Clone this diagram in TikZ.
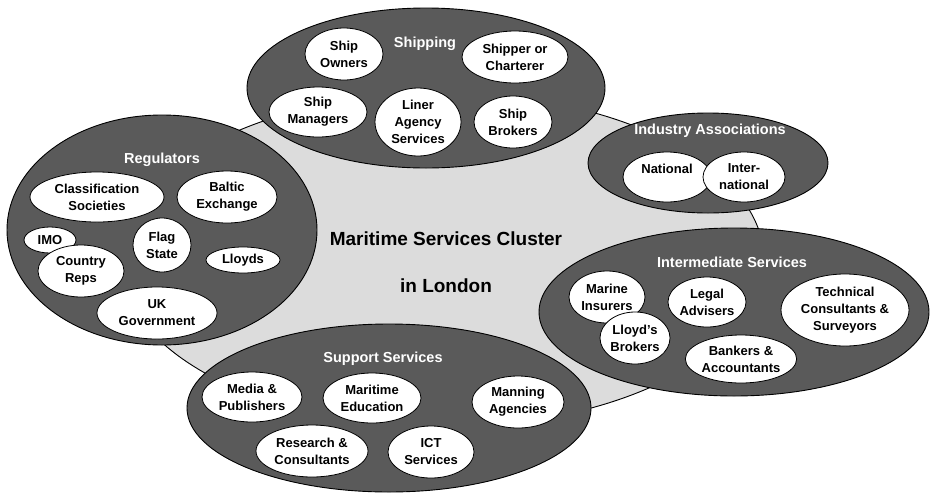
\documentclass[tikz,border=0pt]{standalone}
\usepackage{fontspec}
\setmainfont{Liberation Sans}
\usetikzlibrary{shapes.geometric}
\definecolor{lightg}{RGB}{220,220,220}
\definecolor{darkg}{RGB}{90,90,90}
\newcommand\myitemfont{\fontsize{13}{17}\selectfont\bfseries}
\newcommand\myhdrfont{\fontsize{14.5}{17}\selectfont\bfseries}
\newcommand\mytitlefont{\fontsize{19}{22}\selectfont\bfseries}
\tikzset{
  bigell/.style={ellipse, draw=black, fill=lightg, line width=0.9pt, inner sep=0pt, outer sep=0pt},
  grp/.style={ellipse, draw=black, fill=darkg, line width=0.9pt, inner sep=0pt, outer sep=0pt},
  itm/.style={ellipse, draw=black, fill=white, line width=0.8pt, inner sep=0pt, outer sep=0pt, align=center, font=\myitemfont, text=black},
  hdr/.style={text=white, font=\myhdrfont, inner sep=0pt},
  ttl/.style={text=black, font=\mytitlefont, inner sep=0pt},
}
\begin{document}
\begin{tikzpicture}[x=1pt,y=-1pt]
\useasboundingbox[fill=white] (0,0) rectangle (931,501);
% central cluster
\node[bigell, minimum width=644pt, minimum height=334pt] (cluster) at (442,260) {};
\node[ttl] (title1) at (446,239) {Maritime Services Cluster};
\node[ttl] (title2) at (446,286) {in London};
% Shipping
\node[grp, minimum width=358pt, minimum height=160pt] (shipping) at (426,88) {};
\node[hdr] (shippingh) at (425,44) {Shipping};
\node[itm, minimum width=78pt, minimum height=52pt] (owners) at (344,54) {Ship\\Owners};
\node[itm, minimum width=106pt, minimum height=52pt] (shipper) at (515,57) {Shipper or\\Charterer};
\node[itm, minimum width=98pt, minimum height=50pt] (managers) at (318,112) {Ship\\Managers};
\node[itm, minimum width=86pt, minimum height=68pt] (liner) at (418,122) {Liner\\Agency\\Services};
\node[itm, minimum width=78pt, minimum height=52pt] (brokers) at (513,122) {Ship\\Brokers};
% Regulators
\node[grp, minimum width=310pt, minimum height=230pt] (regulators) at (162,230) {};
\node[hdr] (regulatorsh) at (162,160) {Regulators};
\node[itm, minimum width=134pt, minimum height=50pt] (class) at (97,197) {Classification\\Societies};
\node[itm, minimum width=100pt, minimum height=52pt] (baltic) at (227,197) {Baltic\\Exchange};
\node[itm, minimum width=52pt, minimum height=26pt] (imo) at (50,240) {IMO};
\node[itm, minimum width=86pt, minimum height=52pt] (country) at (81,271) {Country\\Reps};
\node[itm, minimum width=58pt, minimum height=54pt] (flag) at (162,245) {Flag\\State};
\node[itm, minimum width=74pt, minimum height=26pt] (lloyds) at (243,260) {Lloyds};
\node[itm, minimum width=120pt, minimum height=52pt] (ukgov) at (157,313) {UK\\Government};
% Industry Associations
\node[grp, minimum width=240pt, minimum height=100pt] (industry) at (708,163) {};
\node[hdr] (industryh) at (710,131) {Industry Associations};
\node[itm, minimum width=88pt, minimum height=50pt] (national) at (667,177) {National\\\mbox{}};
\node[itm, minimum width=82pt, minimum height=50pt] (intl) at (744,177) {Inter-\\national};
% Intermediate Services
\node[grp, minimum width=390pt, minimum height=168pt] (intermediate) at (734,312) {};
\node[hdr] (intermediateh) at (732,262) {Intermediate Services};
\node[itm, minimum width=76pt, minimum height=52pt] (marine) at (607,297) {Marine\\Insurers};
\node[itm, minimum width=78pt, minimum height=50pt] (legal) at (707,302) {Legal\\Advisers};
\node[itm, minimum width=128pt, minimum height=72pt] (technical) at (845,310) {Technical\\Consultants \&\\Surveyors};
\node[itm, minimum width=70pt, minimum height=52pt] (lbrokers) at (635,338) {Lloyd's\\Brokers};
\node[itm, minimum width=104pt, minimum height=48pt] (bankers) at (741,359) {Bankers \&\\Accountants};
% Support Services
\node[grp, minimum width=404pt, minimum height=168pt] (support) at (389,408) {};
\node[hdr] (supporth) at (383,359) {Support Services};
\node[itm, minimum width=100pt, minimum height=50pt] (media) at (252,397) {Media \&\\Publishers};
\node[itm, minimum width=98pt, minimum height=50pt] (education) at (372,398) {Maritime\\Education};
\node[itm, minimum width=92pt, minimum height=52pt] (manning) at (518,402) {Manning\\Agencies};
\node[itm, minimum width=112pt, minimum height=52pt] (research) at (312,451) {Research \&\\Consultants};
\node[itm, minimum width=86pt, minimum height=52pt] (ict) at (431,452) {ICT\\Services};
\end{tikzpicture}
\end{document}
